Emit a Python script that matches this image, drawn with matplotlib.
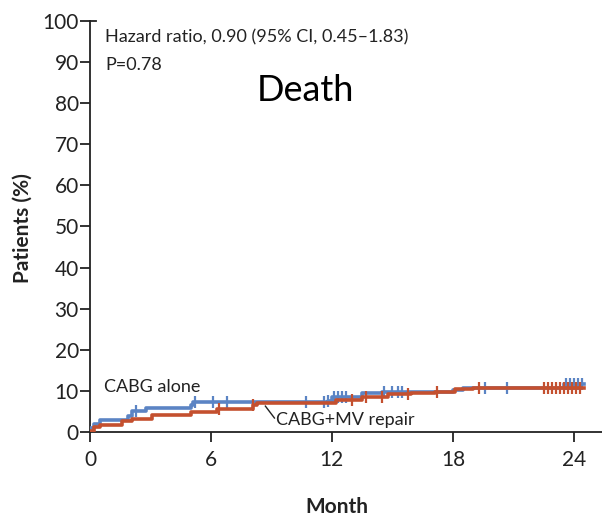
import matplotlib
matplotlib.use("Agg")
import matplotlib.pyplot as plt

# ---- data ----
blue_t = [0.0, 0.2, 0.5, 1.9, 2.1, 2.8, 5.0, 5.1, 11.8, 12.0, 13.5, 14.5, 18.0, 18.5, 23.5, 24.5]
blue_y = [1.0, 2.0, 3.0, 4.0, 5.0, 5.8, 6.5, 7.3, 7.5, 8.5, 9.5, 9.8, 10.3, 10.6, 11.8, 11.8]
blue_cens = [2.3, 5.2, 6.1, 6.8, 10.7, 11.6, 11.8, 12.1, 12.3, 12.5, 12.7, 14.6, 15.0, 15.3, 15.5,
             19.6, 20.7, 23.6, 23.8, 24.0, 24.2, 24.4]

red_t = [0.0, 0.2, 0.5, 1.6, 2.1, 3.1, 5.0, 6.3, 8.1, 8.3, 12.2, 13.5, 14.8, 15.9, 17.1, 18.1, 19.0, 24.5]
red_y = [0.3, 1.2, 1.8, 2.6, 3.2, 4.2, 4.8, 5.6, 6.5, 7.0, 7.8, 8.5, 9.2, 9.5, 9.7, 10.4, 10.7, 10.7]
red_cens = [6.4, 8.1, 13.0, 13.7, 14.5, 15.8, 17.2, 19.3, 22.5, 22.7, 22.9, 23.1, 23.3, 23.5,
            23.7, 23.9, 24.1, 24.3]

x_ticks = [0, 6, 12, 18, 24]
y_ticks = [0, 10, 20, 30, 40, 50, 60, 70, 80, 90, 100]

blue = '#5b84c4'
red = '#c4502f'
ink = '#222222'
FONT = ['Lato', 'DejaVu Sans']

plt.rcParams['font.family'] = FONT

def step_value(ts, ys, t):
    v = ys[0]
    for tt, yy in zip(ts, ys):
        if tt <= t:
            v = yy
    return v

fig = plt.figure(figsize=(6.02, 5.19), dpi=100)
ax = fig.add_axes([90/602, 1-432/519, 1-90/602, (432-21)/519])

ax.step(blue_t, blue_y, where='post', color=blue, lw=2.6, zorder=3)
ax.step(red_t, red_y, where='post', color=red, lw=2.6, zorder=4)
ax.plot(blue_cens, [step_value(blue_t, blue_y, t) for t in blue_cens], ls='none',
        marker='|', ms=8, mew=1.6, color=blue, zorder=3)
ax.plot(red_cens, [step_value(red_t, red_y, t) for t in red_cens], ls='none',
        marker='|', ms=8, mew=1.6, color=red, zorder=4)

ax.set_xlim(0, 25.4)
ax.set_ylim(0, 100)
ax.set_xticks(x_ticks)
ax.set_yticks(y_ticks)
ax.set_xticklabels([str(v) for v in x_ticks])
ax.set_yticklabels([str(v) for v in y_ticks])
for s in ['top', 'right']:
    ax.spines[s].set_visible(False)
for s in ['left', 'bottom']:
    ax.spines[s].set_linewidth(1.3)
    ax.spines[s].set_color(ink)
ax.tick_params(direction='out', length=7, width=1.3, color=ink,
               labelsize=15, labelcolor=ink, pad=1)
ax.tick_params(axis='x', pad=6)
# small hook at the top of the y axis
ax.plot([0, 0.3], [100, 100], color=ink, lw=1.3, clip_on=False)

ax.set_xlabel('Month', fontsize=15, fontweight='bold', color=ink)
ax.set_ylabel('Patients (%)', fontsize=15, fontweight='bold', color=ink)
ax.xaxis.set_label_coords((337-90)/(602-90), -(507-432)/411)
ax.yaxis.set_label_coords(-(90-23)/(602-90), (432-228)/411)
ax.xaxis.label.set_va('center')
ax.yaxis.label.set_va('center')

ax.text(0.75, 95.9, 'Hazard ratio, 0.90 (95% CI, 0.45\u20131.83)', fontsize=13,
        color=ink, va='center', ha='left')
ax.text(0.75, 89.3, 'P=0.78', fontsize=13, color=ink, va='center', ha='left')
ax.text(10.7, 83.2, 'Death', fontsize=26, color='black', va='center', ha='center')
ax.text(0.7, 10.9, 'CABG alone', fontsize=13, color=ink, va='center', ha='left')
ax.text(9.25, 2.9, 'CABG+MV repair', fontsize=13, color=ink, va='center', ha='left')
ax.plot([8.7, 9.15], [6.3, 3.4], color=ink, lw=1)

fig.savefig('out.png', dpi=100)
